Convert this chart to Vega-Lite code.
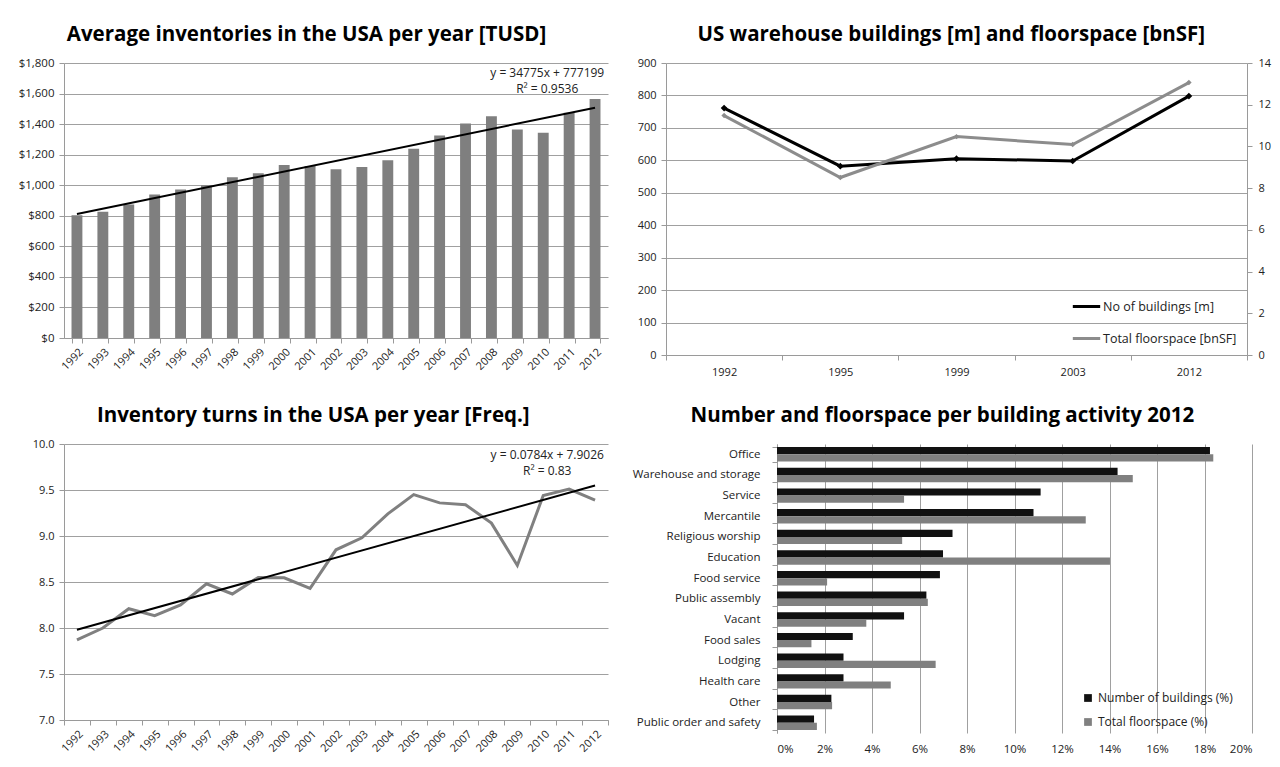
{
  "$schema": "https://vega.github.io/schema/vega-lite/v6.json",
  "background": "white",
  "padding": {"left": 5, "top": 24, "right": 2, "bottom": 2},
  "config": {
    "font": "Open Sans",
    "view": {"stroke": null},
    "title": {"font": "Open Sans", "fontSize": 20.5, "fontWeight": "bold", "color": "#000", "offset": 12, "anchor": "middle", "frame": "bounds"},
    "axis": {"labelFont": "Open Sans", "labelFontSize": 11, "labelColor": "#222", "domainColor": "#9a9a9a", "tickColor": "#9a9a9a", "gridColor": "#a0a0a0", "tickSize": 5, "labelPadding": 3, "labelOverlap": false},
    "legend": {"labelFont": "Open Sans", "labelFontSize": 11, "labelColor": "#222"}
  },
  "datasets": {
    "inv": [
      {"year": "1992", "value": 804}, {"year": "1993", "value": 826}, {"year": "1994", "value": 874},
      {"year": "1995", "value": 939}, {"year": "1996", "value": 972}, {"year": "1997", "value": 1000},
      {"year": "1998", "value": 1052}, {"year": "1999", "value": 1078}, {"year": "2000", "value": 1133},
      {"year": "2001", "value": 1126}, {"year": "2002", "value": 1104}, {"year": "2003", "value": 1120},
      {"year": "2004", "value": 1163}, {"year": "2005", "value": 1239}, {"year": "2006", "value": 1326},
      {"year": "2007", "value": 1404}, {"year": "2008", "value": 1452}, {"year": "2009", "value": 1365},
      {"year": "2010", "value": 1344}, {"year": "2011", "value": 1474}, {"year": "2012", "value": 1565}
    ],
    "invTrend": [{"year": "1992", "value": 812}, {"year": "2012", "value": 1507}],
    "invLabel": [
      {"year": "2010", "value": 1735, "label": "y = 34775x + 777199"},
      {"year": "2010", "value": 1631, "label": "R² = 0.9536"}
    ],
    "wh": [
      {"year": "1992", "buildings": 761, "floorspace": 11.48},
      {"year": "1995", "buildings": 582, "floorspace": 8.51},
      {"year": "1999", "buildings": 605, "floorspace": 10.47},
      {"year": "2003", "buildings": 598, "floorspace": 10.09},
      {"year": "2012", "buildings": 798, "floorspace": 13.06}
    ],
    "turns": [
      {"year": "1992", "value": 7.87}, {"year": "1993", "value": 8.0}, {"year": "1994", "value": 8.21},
      {"year": "1995", "value": 8.135}, {"year": "1996", "value": 8.25}, {"year": "1997", "value": 8.48},
      {"year": "1998", "value": 8.37}, {"year": "1999", "value": 8.55}, {"year": "2000", "value": 8.545},
      {"year": "2001", "value": 8.43}, {"year": "2002", "value": 8.85}, {"year": "2003", "value": 8.98},
      {"year": "2004", "value": 9.24}, {"year": "2005", "value": 9.45}, {"year": "2006", "value": 9.36},
      {"year": "2007", "value": 9.34}, {"year": "2008", "value": 9.14}, {"year": "2009", "value": 8.68},
      {"year": "2010", "value": 9.44}, {"year": "2011", "value": 9.51}, {"year": "2012", "value": 9.39}
    ],
    "turnsTrend": [{"year": "1992", "value": 7.981}, {"year": "2012", "value": 9.549}],
    "turnsLabel": [
      {"year": "2010", "value": 9.88, "label": "y = 0.0784x + 7.9026"},
      {"year": "2010", "value": 9.71, "label": "R² = 0.83"}
    ],
    "act": [
      {"cat": "Office", "series": "Number of buildings (%)", "value": 18.23},
      {"cat": "Office", "series": "Total floorspace (%)", "value": 18.37},
      {"cat": "Warehouse and storage", "series": "Number of buildings (%)", "value": 14.34},
      {"cat": "Warehouse and storage", "series": "Total floorspace (%)", "value": 14.98},
      {"cat": "Service", "series": "Number of buildings (%)", "value": 11.1},
      {"cat": "Service", "series": "Total floorspace (%)", "value": 5.35},
      {"cat": "Mercantile", "series": "Number of buildings (%)", "value": 10.8},
      {"cat": "Mercantile", "series": "Total floorspace (%)", "value": 13.0},
      {"cat": "Religious worship", "series": "Number of buildings (%)", "value": 7.39},
      {"cat": "Religious worship", "series": "Total floorspace (%)", "value": 5.27},
      {"cat": "Education", "series": "Number of buildings (%)", "value": 6.99},
      {"cat": "Education", "series": "Total floorspace (%)", "value": 14.02},
      {"cat": "Food service", "series": "Number of buildings (%)", "value": 6.86},
      {"cat": "Food service", "series": "Total floorspace (%)", "value": 2.11},
      {"cat": "Public assembly", "series": "Number of buildings (%)", "value": 6.29},
      {"cat": "Public assembly", "series": "Total floorspace (%)", "value": 6.35},
      {"cat": "Vacant", "series": "Number of buildings (%)", "value": 5.35},
      {"cat": "Vacant", "series": "Total floorspace (%)", "value": 3.76},
      {"cat": "Food sales", "series": "Number of buildings (%)", "value": 3.19},
      {"cat": "Food sales", "series": "Total floorspace (%)", "value": 1.45},
      {"cat": "Lodging", "series": "Number of buildings (%)", "value": 2.8},
      {"cat": "Lodging", "series": "Total floorspace (%)", "value": 6.68},
      {"cat": "Health care", "series": "Number of buildings (%)", "value": 2.8},
      {"cat": "Health care", "series": "Total floorspace (%)", "value": 4.79},
      {"cat": "Other", "series": "Number of buildings (%)", "value": 2.29},
      {"cat": "Other", "series": "Total floorspace (%)", "value": 2.32},
      {"cat": "Public order and safety", "series": "Number of buildings (%)", "value": 1.56},
      {"cat": "Public order and safety", "series": "Total floorspace (%)", "value": 1.68}
    ]
  },
  "columns": 2,
  "align": "none",
  "spacing": {"row": 28, "column": 23},
  "resolve": {"scale": {"color": "independent"}, "legend": {"color": "independent"}},
  "concat": [
    {
      "title": "Average inventories in the USA per year [TUSD]",
      "width": 544,
      "height": 275,
      "encoding": {
        "x": {"field": "year", "type": "ordinal", "title": null,
              "scale": {"paddingInner": 0.58, "paddingOuter": 0.29},
              "axis": {"labelAngle": -45, "tickBand": "extent", "grid": false}},
        "y": {"field": "value", "type": "quantitative", "title": null,
              "scale": {"domain": [0, 1800]},
              "axis": {"format": "$,.0f", "values": [0, 200, 400, 600, 800, 1000, 1200, 1400, 1600, 1800], "grid": true, "labelFontSize": 11.5, "labelPadding": 5, "minExtent": 59}}
      },
      "layer": [
        {"data": {"name": "inv"}, "mark": {"type": "bar", "color": "#7f7f7f"}},
        {"data": {"name": "invTrend"}, "mark": {"type": "line", "color": "#000", "strokeWidth": 2}},
        {
          "data": {"name": "invLabel"},
          "mark": {"type": "text", "fontSize": 12, "align": "center", "baseline": "middle", "dx": 4, "color": "#222"},
          "encoding": {"text": {"field": "label"}}
        }
      ]
    },
    {
      "title": "US warehouse buildings [m] and floorspace [bnSF]",
      "width": 581,
      "height": 292,
      "data": {"name": "wh"},
      "encoding": {
        "x": {"field": "year", "type": "ordinal", "title": null,
              "scale": {"type": "band", "paddingInner": 0, "paddingOuter": 0},
              "axis": {"labelAngle": 0, "tickBand": "extent", "grid": false, "labelPadding": 6}}
      },
      "layer": [
        {
          "encoding": {
            "y": {"field": "buildings", "type": "quantitative", "title": null,
                  "scale": {"domain": [0, 900]},
                  "axis": {"values": [0, 100, 200, 300, 400, 500, 600, 700, 800, 900], "grid": true, "labelPadding": 5, "minExtent": 34}}
          },
          "layer": [
            {
              "mark": {"type": "line", "strokeWidth": 3},
              "encoding": {
                "color": {"datum": "No of buildings [m]", "type": "nominal",
                          "scale": {"domain": ["No of buildings [m]", "Total floorspace [bnSF]"], "range": ["#000000", "#8c8c8c"]},
                          "legend": {"title": null, "orient": "bottom-right", "offset": 10, "symbolType": "stroke", "symbolStrokeWidth": 3, "symbolSize": 750, "rowPadding": 10, "labelOffset": 1, "labelFontSize": 12.5}}
              }
            },
            {"mark": {"type": "point", "shape": "diamond", "filled": true, "opacity": 1, "color": "#000", "size": 45}}
          ]
        },
        {
          "encoding": {
            "y": {"field": "floorspace", "type": "quantitative", "title": null,
                  "scale": {"domain": [0, 14]},
                  "axis": {"orient": "right", "values": [0, 2, 4, 6, 8, 10, 12, 14], "grid": false, "labelPadding": 6}}
          },
          "layer": [
            {
              "mark": {"type": "line", "strokeWidth": 3},
              "encoding": {"color": {"datum": "Total floorspace [bnSF]", "type": "nominal"}}
            },
            {"mark": {"type": "point", "shape": "diamond", "filled": true, "opacity": 1, "color": "#8c8c8c", "size": 30}}
          ]
        }
      ],
      "resolve": {"scale": {"y": "independent"}}
    },
    {
      "title": "Inventory turns in the USA per year [Freq.]",
      "width": 544,
      "height": 276,
      "encoding": {
        "x": {"field": "year", "type": "ordinal", "title": null,
              "scale": {"type": "band", "paddingInner": 0, "paddingOuter": 0},
              "axis": {"labelAngle": -45, "tickBand": "extent", "grid": false}},
        "y": {"field": "value", "type": "quantitative", "title": null,
              "scale": {"domain": [7, 10]},
              "axis": {"format": ".1f", "values": [7, 7.5, 8, 8.5, 9, 9.5, 10], "grid": true, "labelPadding": 5, "minExtent": 46}}
      },
      "layer": [
        {"data": {"name": "turns"}, "mark": {"type": "line", "color": "#808080", "strokeWidth": 3}},
        {"data": {"name": "turnsTrend"}, "mark": {"type": "line", "color": "#000", "strokeWidth": 2}},
        {
          "data": {"name": "turnsLabel"},
          "mark": {"type": "text", "fontSize": 12, "align": "center", "baseline": "middle", "dx": 4, "color": "#222"},
          "encoding": {"text": {"field": "label"}}
        }
      ]
    },
    {
      "title": "Number and floorspace per building activity 2012",
      "width": 475,
      "height": 289,
      "data": {"name": "act"},
      "mark": {"type": "bar"},
      "encoding": {
        "y": {"field": "cat", "type": "nominal", "sort": null, "title": null,
              "scale": {"paddingInner": 0.3, "paddingOuter": 0.15},
              "axis": {"tickBand": "extent", "grid": false, "labelPadding": 12, "labelFontSize": 11.5}},
        "yOffset": {"field": "series", "type": "nominal", "sort": ["Number of buildings (%)", "Total floorspace (%)"]},
        "x": {"field": "value", "type": "quantitative", "title": null,
              "scale": {"domain": [0, 20]},
              "axis": {"values": [0, 2, 4, 6, 8, 10, 12, 14, 16, 18, 20], "labelExpr": "datum.value + '%'", "grid": true, "domain": false, "tickSize": 0, "labelPadding": 10, "labelFontSize": 11.5}},
        "color": {"field": "series", "type": "nominal",
                  "scale": {"domain": ["Number of buildings (%)", "Total floorspace (%)"], "range": ["#111111", "#808080"]},
                  "legend": {"title": null, "orient": "none", "legendX": 305, "legendY": 248, "symbolType": "square", "symbolSize": 60, "rowPadding": 12, "labelFontSize": 12}}
      }
    }
  ]
}
